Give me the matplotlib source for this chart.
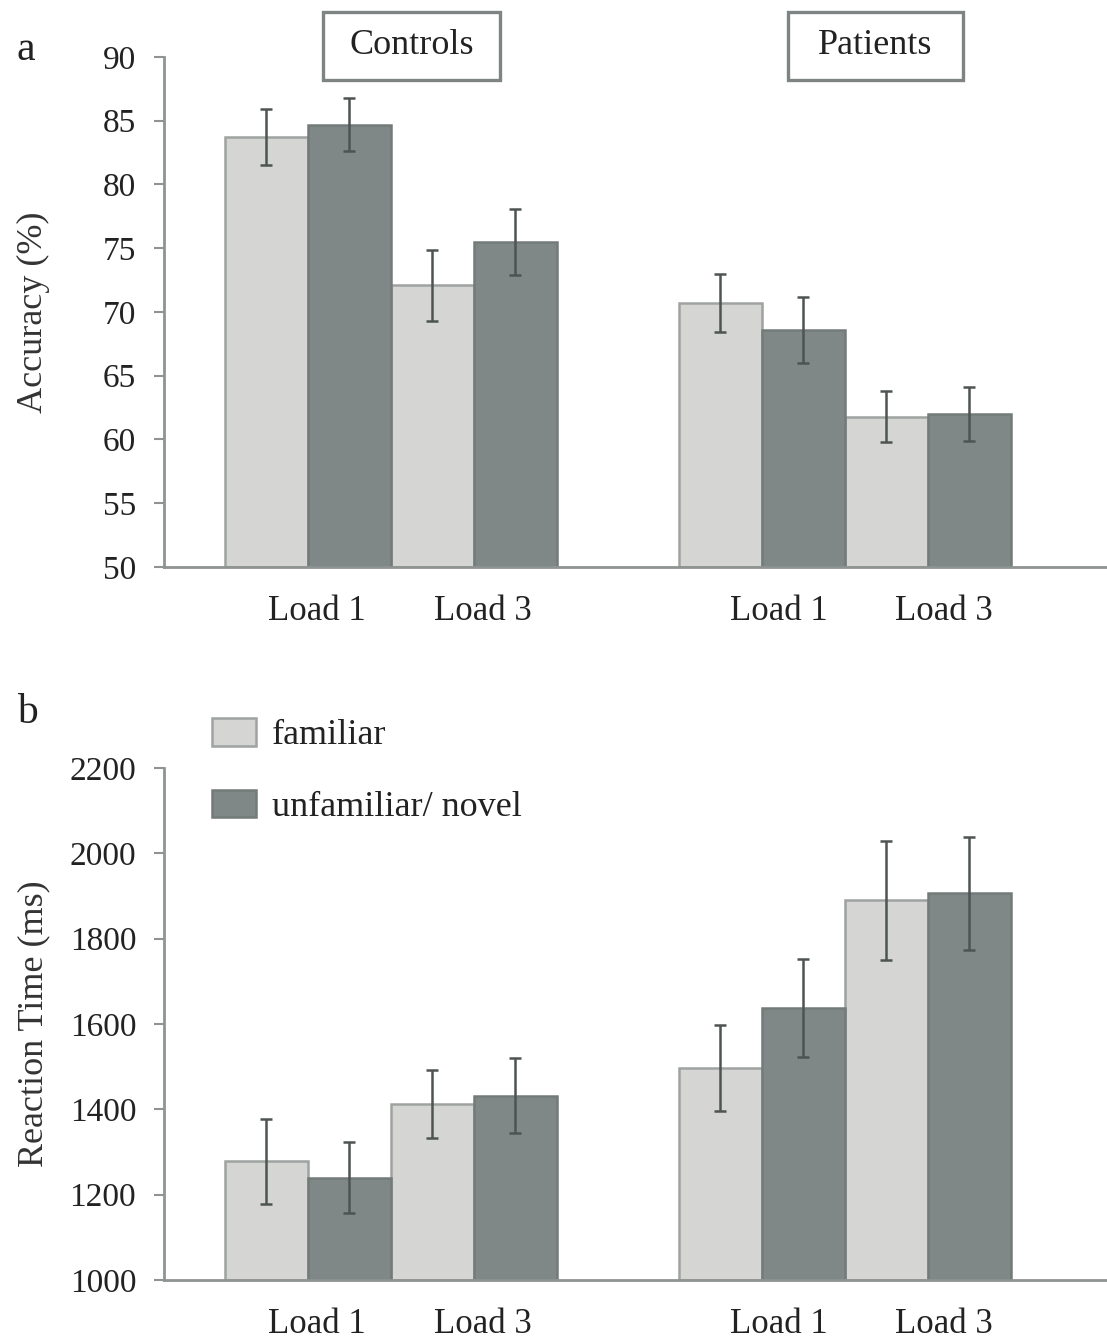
import matplotlib.pyplot as plt
from matplotlib.patches import Patch, Rectangle
import numpy as np

plt.rcParams['font.family'] = ['Liberation Serif', 'DejaVu Serif']

groups = ['Controls', 'Patients']
loads = ['Load 1', 'Load 3']
conditions = ['familiar', 'unfamiliar/ novel']

# accuracy (%) : order = Controls L1, Controls L3, Patients L1, Patients L3
acc_familiar = [83.7, 72.1, 70.7, 61.8]
acc_familiar_err = [2.2, 2.8, 2.3, 2.0]
acc_unfamiliar = [84.7, 75.5, 68.6, 62.0]
acc_unfamiliar_err = [2.1, 2.6, 2.6, 2.1]

# reaction time (ms)
rt_familiar = [1278, 1413, 1497, 1890]
rt_familiar_err = [100, 80, 100, 140]
rt_unfamiliar = [1240, 1432, 1638, 1906]
rt_unfamiliar_err = [83, 88, 115, 132]

light = '#d5d6d3'
dark = '#7f8886'
light_edge = '#9ea3a1'
dark_edge = '#737b79'
err_col = '#4d5453'
spine_col = '#8e9492'
txt = '#222222'

# bar centres: familiar / unfamiliar side by side, load pairs, group gap
pair_left = np.array([0, 2, 5.47, 7.47])
fam_x = pair_left
unf_x = pair_left + 1
tick_x = pair_left + 0.5 + np.array([0.11, 0.11, 0.2, 0.2])

W, H = 1107, 1341
fig = plt.figure(figsize=(W / 100, H / 100), dpi=100)
ax_a = fig.add_axes([164/W, 1-567/H, 1-164/W, (567-57)/H])
ax_b = fig.add_axes([164/W, 1-1280/H, 1-164/W, (1280-768)/H])


def draw(ax, fam, fam_err, unf, unf_err, ylim, yticks, ylabel, bottom):
    ax.bar(fam_x, np.array(fam) - bottom, 1.0, bottom=bottom, color=light,
           edgecolor=light_edge, linewidth=1.8, zorder=2)
    ax.bar(unf_x, np.array(unf) - bottom, 1.0, bottom=bottom, color=dark,
           edgecolor=dark_edge, linewidth=1.8, zorder=2)
    ax.errorbar(fam_x, fam, yerr=fam_err, fmt='none', ecolor=err_col,
                elinewidth=1.8, capsize=4.5, capthick=1.8, zorder=3)
    ax.errorbar(unf_x, unf, yerr=unf_err, fmt='none', ecolor=err_col,
                elinewidth=1.8, capsize=4.5, capthick=1.8, zorder=3)
    ax.set_xlim(-1.235, 10.13)
    ax.set_ylim(*ylim)
    ax.set_yticks(yticks)
    ax.set_xticks(tick_x)
    ax.set_xticklabels(loads * 2)
    for s in ['top', 'right']:
        ax.spines[s].set_visible(False)
    for s in ['left', 'bottom']:
        ax.spines[s].set_color(spine_col)
        ax.spines[s].set_linewidth(2)
    ax.tick_params(axis='y', direction='out', length=7, width=1.5,
                   color=spine_col, labelsize=24, labelcolor=txt, pad=13)
    ax.tick_params(axis='x', length=0, labelsize=25, labelcolor=txt, pad=20)
    ax.set_ylabel(ylabel, fontsize=26, color='#333333')
    ax.yaxis.set_label_coords((50 - 164) / (W - 164), 0.5)


draw(ax_a, acc_familiar, acc_familiar_err, acc_unfamiliar, acc_unfamiliar_err,
     (50, 90), range(50, 91, 5), 'Accuracy (%)', 50)
draw(ax_b, rt_familiar, rt_familiar_err, rt_unfamiliar, rt_unfamiliar_err,
     (1000, 2200), range(1000, 2201, 200), 'Reaction Time (ms)', 1000)

# group boxes (drawn in figure pixels)
for name, (x0, x1) in zip(groups, [(323, 500), (788, 963)]):
    fig.patches.append(Rectangle((x0/W + 2/W, 1-82/H), (x1-x0)/W, 68/H,
                                 transform=fig.transFigure, facecolor='#e4e6e5',
                                 edgecolor='none', zorder=1))
    fig.patches.append(Rectangle((x0/W, 1-80/H), (x1-x0)/W, 68/H,
                                 transform=fig.transFigure, facecolor='white',
                                 edgecolor='#7d8483', linewidth=2.4, zorder=2))
    fig.text((x0+x1)/2/W, 1-46/H, name, fontsize=26, ha='center', va='center',
             color=txt, zorder=3)

# panel letters
fig.text(17/W, 1-50/H, 'a', fontsize=30, ha='left', va='center', color=txt)
fig.text(17/W, 1-713/H, 'b', fontsize=30, ha='left', va='center', color=txt)

# legend
handles = [Patch(facecolor=light, edgecolor=light_edge, linewidth=1.8),
           Patch(facecolor=dark, edgecolor=dark_edge, linewidth=1.8)]
fig.legend(handles, conditions, loc='upper left',
           bbox_to_anchor=(212/W, 1-718/H), frameon=False, fontsize=26,
           borderpad=0, borderaxespad=0, handlelength=1.22, handleheight=0.8,
           labelspacing=1.03, handletextpad=0.45, labelcolor=txt)

fig.savefig('out.png', dpi=100)
